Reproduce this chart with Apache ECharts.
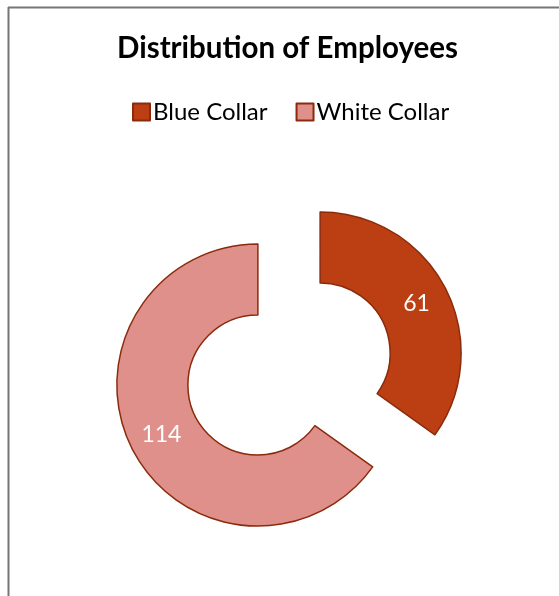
<!DOCTYPE html>
<html>
<head>
<meta charset="utf-8">
<script src="https://cdn.jsdelivr.net/npm/echarts@6/dist/echarts.min.js"></script>
<style>
html,body{margin:0;padding:0;background:#fff;}
#chart{width:559px;height:596px;}
</style>
</head>
<body>
<div id="chart"></div>
<script>
var categories = ['Blue Collar', 'White Collar'];
var values = [61, 114];
var colors = ['#BB3F13', '#E0908A'];
var titleText = 'Distribution of Employees';

var chart = echarts.init(document.getElementById('chart'), null, {renderer: 'canvas'});
var data = categories.map(function (c, i) {
  return {name: c, value: values[i], selected: true, itemStyle: {color: colors[i]}};
});
chart.setOption({
  animation: false,
  backgroundColor: '#ffffff',
  title: {
    text: titleText,
    left: 112,
    top: 28,
    textStyle: {fontFamily: 'Lato', fontWeight: 'bold', fontSize: 29.5, color: '#000'}
  },
  legend: {
    data: categories,
    top: 95,
    left: 127,
    icon: 'rect',
    itemWidth: 17,
    itemHeight: 17,
    itemGap: 28,
    selectedMode: false,
    textStyle: {fontFamily: 'Lato', fontSize: 24, color: '#000', padding: [0, 0, 0, -2]}
  },
  graphic: [
    {type: 'line', shape: {x1: 8.5, y1: 7, x2: 8.5, y2: 596}, style: {stroke: '#767676', lineWidth: 2}},
    {type: 'line', shape: {x1: 8, y1: 7.5, x2: 559, y2: 7.5}, style: {stroke: '#767676', lineWidth: 2}}
  ],
  series: [{
    type: 'pie',
    center: [289, 369],
    radius: [70, 141],
    startAngle: 90,
    clockwise: true,
    selectedMode: 'multiple',
    selectedOffset: 35,
    data: data,
    itemStyle: {borderColor: '#8A2B0C', borderWidth: 1.5},
    label: {
      show: true,
      position: 'inside',
      formatter: '{c}',
      fontFamily: 'Lato',
      fontSize: 23,
      color: '#ffffff'
    },
    labelLine: {show: false},
    emphasis: {disabled: true}
  }]
});
</script>
</body>
</html>
